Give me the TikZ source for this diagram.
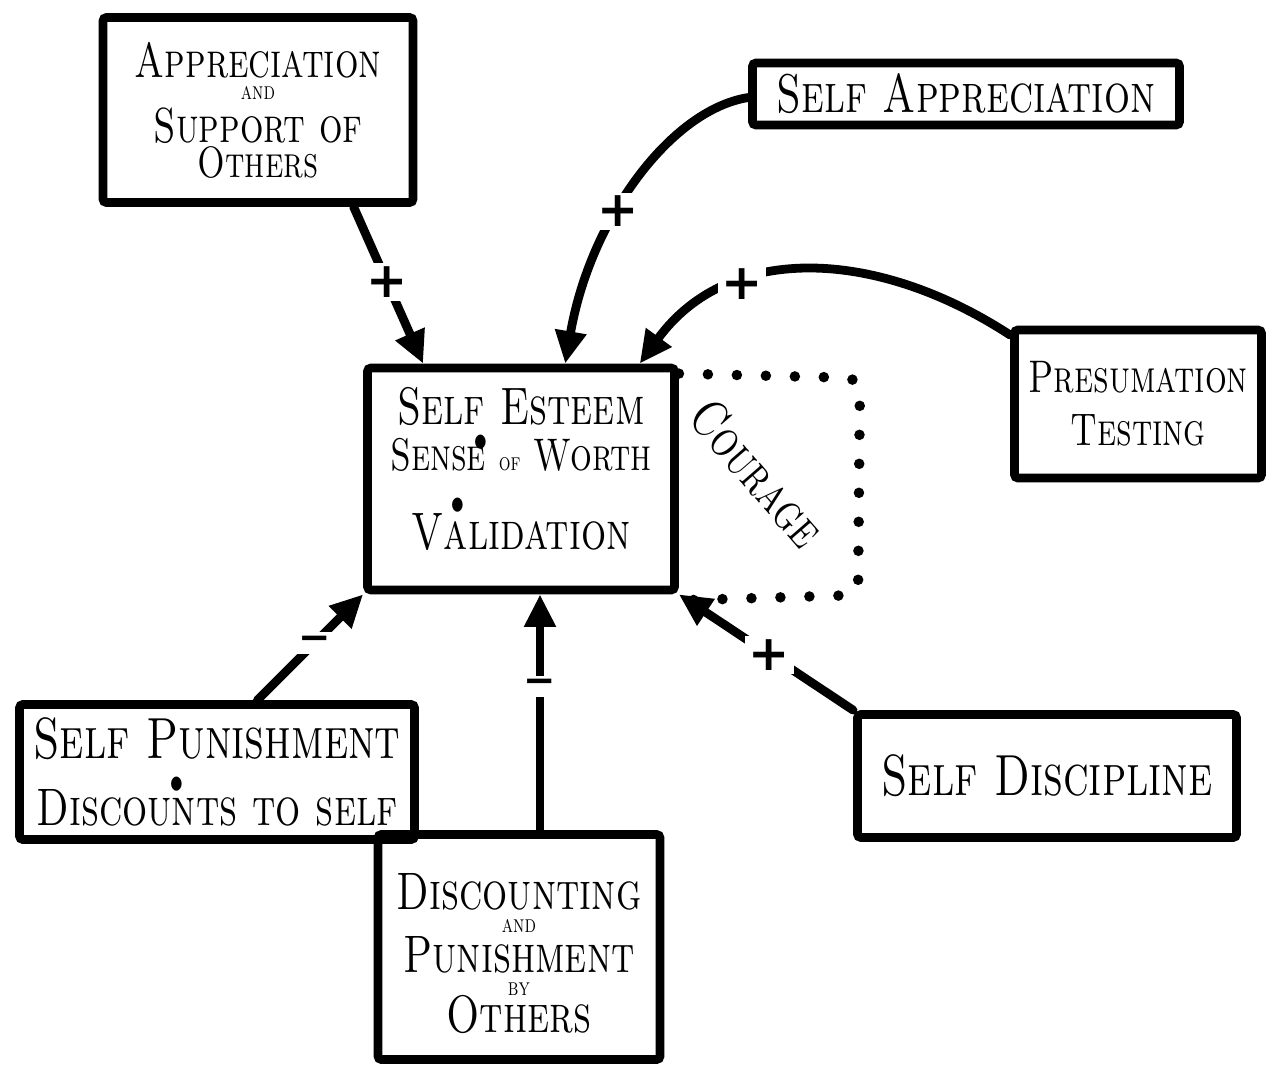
\documentclass[tikz,border=0pt]{standalone}
\usepackage{fontspec}
\setmainfont{lmroman10-regular.otf}[
    FakeStretch=0.75,
    BoldFont=lmroman10-bold.otf,
    SmallCapsFont=lmromancaps10-regular.otf,
    SmallCapsFeatures={FakeStretch=0.75}
]
\newfontfamily\signfont{DejaVu Sans}
\usetikzlibrary{arrows.meta,positioning,calc}
\tikzset{
    box/.style = {
        rectangle,
        draw,
        line width=5pt,
        rounded corners=2pt,
        align=center,
        inner sep=0pt
    },
    link/.style = {
        -{Triangle[length=6.5mm,width=6mm]},
        line width=5pt,
        line cap=round
    },
    sign/.style = {
        fill=white,
        inner sep=2pt,
        font=\signfont\bfseries\fontsize{28}{28}\selectfont
    },
    minus/.style = {
        sign,
        font=\signfont\bfseries\fontsize{22}{22}\selectfont
    },
    dotloop/.style = {
        line width=6pt,
        line cap=round,
        dash pattern=on 0pt off 16.5pt,
        rounded corners=8pt
    }
}
% hand lettering: size, baseline skip
\newcommand{\hand}[2]{\fontsize{#1}{#2}\selectfont\scshape\lineskiplimit=-100pt}
\newcommand{\smallword}{\fontsize{14}{14}\selectfont}
\newcommand{\sepdot}[2][0pt]{\smash{\rlap{\kern#1\raisebox{#2}{\upshape\fontsize{28}{28}\selectfont\textbullet}}}}

\begin{document}
\begin{tikzpicture}[x=0.2mm,y=-0.2mm]
\useasboundingbox (0,0) rectangle (1279,1066);

% boxes
\node[box, minimum width=62mm, minimum height=37mm, font=\hand{28}{12}] (appr) at (258,110)
    {Appreciation\\[1pt] {\smallword and}\\[12pt] Support of\\[8pt] {\fontsize{25}{25}\selectfont Others}};
\node[box, minimum width=85.4mm, minimum height=12.4mm, font=\hand{31}{31}] (selfappr) at (966,94) {Self Appreciation};
\node[box, minimum width=49.4mm, minimum height=29.6mm, font=\hand{26}{30}] (pres) at (1138,404)
    {Presumation\\ Testing};
\node[box, minimum width=61.4mm, minimum height=44.4mm, font=\hand{30}{26}] (esteem) at (521,479)
    {Self Esteem\\ {\fontsize{26}{26}\selectfont Sens\sepdot{9.5pt}e {\smallword of} Worth}\\[19pt]
     V\sepdot{18.5pt}alidation\\[-14pt] \mbox{}};
\node[box, minimum width=79mm, minimum height=27mm, font=\hand{33}{38}] (punish) at (217,772)
    {Self \sepdot[9pt]{-21pt}Punishment\\ {\fontsize{30}{30}\selectfont Discounts to self}};
\node[box, minimum width=56.4mm, minimum height=45mm, font=\hand{30}{12}] (discount) at (519,947)
    {\rule{0pt}{28pt}Discounting\\[1pt] {\smallword and}\\[11pt] Punishment\\[1pt] {\smallword by}\\[9pt] Others};
\node[box, minimum width=75.8mm, minimum height=24.6mm, font=\hand{33}{33}] (discipline) at (1047,776) {Self Discipline};

% courage loop
\draw[dotloop] ($(esteem.north east)+(0,10)$) -- (860,378) -- (858,595) -- ($(esteem.south east)+(0,6)$);
\node[rotate=-49, font=\hand{30}{30}] (courage) at (757,473) {Courage};

% links
\draw[link] ($(appr.south west)!0.8!(appr.south east)$)
    -- node[sign, pos=0.48] {+} ($(esteem.north west)!0.19!(esteem.north east)$);
\draw[link] ($(selfappr.north west)!0.55!(selfappr.south west)$)
    .. controls (670,110) and (590,220) .. node[sign, pos=0.6] {+} ($(esteem.north west)!0.64!(esteem.north east)$);
\draw[link] ($(pres.north west)!0.06!(pres.south west)$)
    .. controls (880,250) and (730,240) .. node[sign, pos=0.68] {+} ($(esteem.north west)!0.876!(esteem.north east)$);
\draw[link] ($(punish.north west)!0.6!(punish.north east)$)
    -- node[minus, pos=0.54] {−} (esteem.south west);
\draw[link] ($(discount.north)+(21,0)$)
    -- node[minus, pos=0.61] {−} ($(esteem.south)+(19,0)$);
\draw[link] (discipline.north west)
    -- node[sign, pos=0.48] {+} (esteem.south east);
\end{tikzpicture}
\end{document}
